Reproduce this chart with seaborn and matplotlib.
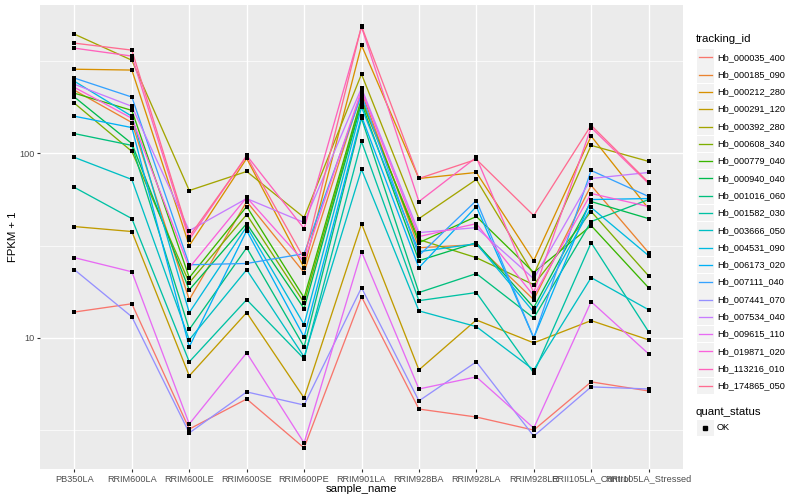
import numpy as np
import pandas as pd
import matplotlib
matplotlib.use("Agg")
import matplotlib.pyplot as plt
from matplotlib.patches import Rectangle
from matplotlib.lines import Line2D
import seaborn as sns

# ---------------------------
# DATA (FPKM + 1)
# ---------------------------
samples = ["PB350LA", "RRIM600LA", "RRIM600LE", "RRIM600SE", "RRIM600PE",
           "RRIM901LA", "RRIM928BA", "RRIM928LA", "RRIM928LE",
           "RRII105LA_Control", "RRII105LA_Stressed"]

hb_000035_400 = [13.8, 15.3, 3.20, 4.66, 2.53, 16.7, 4.11, 3.72, 3.16, 5.77, 5.15]
hb_000185_090 = [220, 147, 16.1, 54.8, 22.6, 215, 30.8, 32.0, 16.1, 67.0, 29.0]
hb_000212_280 = [286, 283, 31.6, 93.9, 24.0, 386, 73.1, 78.8, 26.2, 124, 50.2]
hb_000291_120 = [40.1, 37.7, 6.22, 13.7, 4.72, 41.6, 6.70, 12.5, 9.39, 12.4, 9.75]
hb_000392_280 = [443, 320, 62.9, 79.8, 44.9, 269, 44.3, 72.2, 22.0, 110.5, 90.5]
hb_000608_340 = [187, 102.5, 19.9, 46.6, 15.5, 192, 34.1, 27.2, 19.4, 48.4, 21.7]
hb_000779_040 = [212, 171, 21.2, 51.5, 16.5, 199, 32.8, 45.5, 22.6, 40.6, 18.7]
hb_000940_040 = [202, 113, 18.2, 41.6, 14.4, 187, 26.2, 32.8, 14.6, 54.8, 44.3]
hb_001016_060 = [128, 110.5, 11.1, 30.8, 8.94, 155, 17.6, 22.3, 12.8, 42.7, 56.2]
hb_001582_030 = [65.4, 44.3, 7.41, 16.1, 7.69, 116, 15.9, 17.6, 6.45, 32.8, 10.8]
hb_003666_050 = [95.1, 72.2, 9.75, 23.4, 7.88, 81.9, 14.0, 11.5, 6.70, 21.2, 14.2]
hb_004531_090 = [246, 159, 13.7, 40.1, 11.8, 178, 29.3, 32.4, 13.8, 50.9, 27.9]
hb_006173_020 = [159, 138, 8.94, 38.1, 10.1, 159, 24.0, 51.5, 10.0, 56.2, 56.9]
hb_007111_040 = [256, 202, 24.9, 25.3, 28.6, 207, 27.9, 55.5, 10.0, 80.8, 58.4]
hb_007441_070 = [23.4, 13.0, 3.05, 5.09, 4.32, 18.7, 4.55, 7.41, 2.93, 5.42, 5.28]
hb_007534_040 = [237, 180, 38.1, 56.9, 42.2, 226, 37.2, 39.6, 20.9, 73.1, 78.8]
hb_009615_110 = [27.2, 22.8, 3.41, 8.29, 2.69, 29.3, 5.28, 6.14, 3.24, 15.7, 8.19]
hb_019871_020 = [228, 155, 24.0, 57.7, 25.9, 220, 35.4, 41.6, 16.9, 60.6, 51.5]
hb_113216_010 = [372, 337, 34.1, 97.5, 39.1, 484, 54.8, 95.1, 17.6, 138, 68.7]
hb_174865_050 = [396, 363, 35.4, 96.3, 26.9, 490, 73.1, 92.8, 46.0, 142, 69.6]

tracking_ids = ["Hb_000035_400", "Hb_000185_090", "Hb_000212_280", "Hb_000291_120",
                "Hb_000392_280", "Hb_000608_340", "Hb_000779_040", "Hb_000940_040",
                "Hb_001016_060", "Hb_001582_030", "Hb_003666_050", "Hb_004531_090",
                "Hb_006173_020", "Hb_007111_040", "Hb_007441_070", "Hb_007534_040",
                "Hb_009615_110", "Hb_019871_020", "Hb_113216_010", "Hb_174865_050"]
series = [hb_000035_400, hb_000185_090, hb_000212_280, hb_000291_120,
          hb_000392_280, hb_000608_340, hb_000779_040, hb_000940_040,
          hb_001016_060, hb_001582_030, hb_003666_050, hb_004531_090,
          hb_006173_020, hb_007111_040, hb_007441_070, hb_007534_040,
          hb_009615_110, hb_019871_020, hb_113216_010, hb_174865_050]

# ggplot2 default hue palette for 20 levels
hue_colors = ["#F8766D", "#EA8331", "#D89000", "#C09B00", "#A3A500", "#7CAE00",
              "#39B600", "#00BB4E", "#00BF7D", "#00C1A3", "#00BFC4", "#00BAE0",
              "#00B0F6", "#35A2FF", "#9590FF", "#C77CFF", "#E76BF3", "#FA62DB",
              "#FF62BC", "#FF6C91"]

rows = []
for tid, vals in zip(tracking_ids, series):
    for s, v in zip(samples, vals):
        rows.append({"tracking_id": tid, "sample_name": s, "fpkm1": v,
                     "quant_status": "OK"})
df = pd.DataFrame(rows)
df["pos"] = df["sample_name"].map({s: i for i, s in enumerate(samples)})

# ---------------------------
# PLOT
# ---------------------------
plt.rcParams["font.family"] = ["Liberation Sans", "DejaVu Sans"]

W, H = 800, 500
fig = plt.figure(figsize=(8, 5), dpi=100)
ax = fig.add_axes([40 / W, 1 - 469 / H, 643 / W, 464 / H])
ax.set_facecolor("#EBEBEB")

sns.lineplot(data=df, x="pos", y="fpkm1", hue="tracking_id",
             hue_order=tracking_ids, palette=hue_colors, estimator=None,
             sort=True, linewidth=0.95, legend=False, ax=ax, zorder=2)
sns.scatterplot(data=df, x="pos", y="fpkm1", color="black", marker="s",
                s=10, linewidth=0, legend=False, ax=ax, zorder=3)

ax.set_yscale("log")
lo, hi = np.log10(df["fpkm1"].min()), np.log10(df["fpkm1"].max())
pad = (hi - lo) * 0.05
ax.set_ylim(10 ** (lo - pad), 10 ** (hi + pad))
ax.set_xlim(-0.6, len(samples) - 0.4)

ax.set_yticks([10, 100])
ax.set_yticklabels(["10", "100"])
ax.set_yticks([10 ** 0.5, 10 ** 1.5, 10 ** 2.5], minor=True)
ax.yaxis.set_minor_formatter(matplotlib.ticker.NullFormatter())
ax.set_xticks(range(len(samples)))
ax.set_xticklabels(samples)

ax.grid(True, which="major", color="white", linewidth=1.0)
ax.grid(True, which="minor", axis="y", color="white", linewidth=0.5)
ax.set_axisbelow(True)
for sp in ax.spines.values():
    sp.set_visible(False)
ax.tick_params(axis="both", which="major", length=2.5, width=0.8,
               color="#333333", labelsize=6.6, labelcolor="#4D4D4D", pad=1.5)
ax.tick_params(axis="y", which="minor", length=0)

ax.set_xlabel("sample_name", fontsize=8.2, labelpad=0)
ax.set_ylabel("FPKM + 1", fontsize=8.2, labelpad=1)

# ---------------------------
# LEGENDS (ggplot-like)
# ---------------------------
def fx(px):
    return px / W

def fy(py):
    return 1 - py / H

fig.text(fx(696), fy(39), "tracking_id", fontsize=8.2, va="center", ha="left")
for i, (tid, col) in enumerate(zip(tracking_ids, hue_colors)):
    yc = 57.3 + i * 17.3
    fig.add_artist(Rectangle((fx(697), fy(yc + 8.3)), 16.6 / W, 16.6 / H,
                             transform=fig.transFigure, facecolor="#F2F2F2",
                             edgecolor="none"))
    fig.add_artist(Line2D([fx(698.5), fx(711.5)], [fy(yc), fy(yc)],
                          transform=fig.transFigure, color=col, linewidth=0.95))
    fig.text(fx(717), fy(yc), tid, fontsize=6.6, va="center", ha="left")

fig.text(fx(696), fy(412), "quant_status", fontsize=8.2, va="center", ha="left")
fig.add_artist(Rectangle((fx(697), fy(428 + 8.3)), 16.6 / W, 16.6 / H,
                         transform=fig.transFigure, facecolor="#F2F2F2",
                         edgecolor="none"))
fig.add_artist(Line2D([fx(705)], [fy(428)], transform=fig.transFigure,
                      color="black", marker="s", markersize=2.6, linestyle="none"))
fig.text(fx(717), fy(428), "OK", fontsize=6.6, va="center", ha="left")

fig.savefig("out.png", dpi=100)
